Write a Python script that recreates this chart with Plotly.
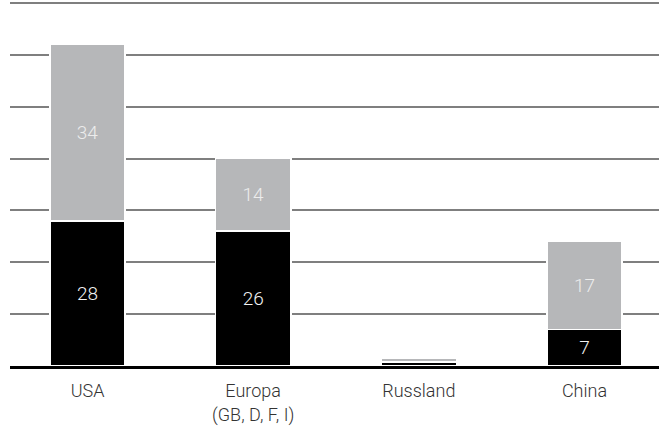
import plotly.graph_objects as go

# Categories and the two stacked series
regions = ["USA", "Europa<br>(GB, D, F, I)", "Russland", "China"]
lower_values = [28, 26, 0.8, 7]
upper_values = [34, 14, 0.7, 17]
lower_labels = ["28", "26", "", "7"]
upper_labels = ["34", "14", "", "17"]
y_ticks = [0, 10, 20, 30, 40, 50, 60, 70]

FONT = "Roboto"

fig = go.Figure()
fig.add_trace(go.Bar(
    x=regions, y=lower_values, text=lower_labels,
    marker=dict(color="#000000", line=dict(color="#ffffff", width=1.5)),
    textposition="inside", insidetextanchor="middle",
    textfont=dict(family=FONT, size=19, color="#f2f2f2", weight=300),
    width=0.455, hoverinfo="skip",
))
fig.add_trace(go.Bar(
    x=regions, y=upper_values, text=upper_labels,
    marker=dict(color="#b6b7b9", line=dict(color="#ffffff", width=1.5)),
    textposition="inside", insidetextanchor="middle",
    textfont=dict(family=FONT, size=19, color="#ececec", weight=300),
    width=0.455, hoverinfo="skip",
))

fig.update_layout(
    barmode="stack",
    width=665, height=428,
    margin=dict(l=10, r=6, t=1, b=62),
    paper_bgcolor="white", plot_bgcolor="white",
    showlegend=False,
    uniformtext=dict(mode=False),
    font=dict(family=FONT, size=18, color="#333333", weight=300),
    xaxis=dict(
        type="category",
        range=[-0.468, 3.45],
        showgrid=False,
        showline=True, linecolor="#000000", linewidth=2.5,
        ticks="", ticklen=0,
        ticklabelstandoff=7,
        tickfont=dict(family=FONT, size=18, color="#333333", weight=300),
    ),
    yaxis=dict(
        range=[0, 70.4],
        tickvals=y_ticks,
        showticklabels=False,
        showgrid=True, gridcolor="#7f7f7f", gridwidth=1.5,
        zeroline=False,
        ticks="",
    ),
)

fig.write_html("out.html")
